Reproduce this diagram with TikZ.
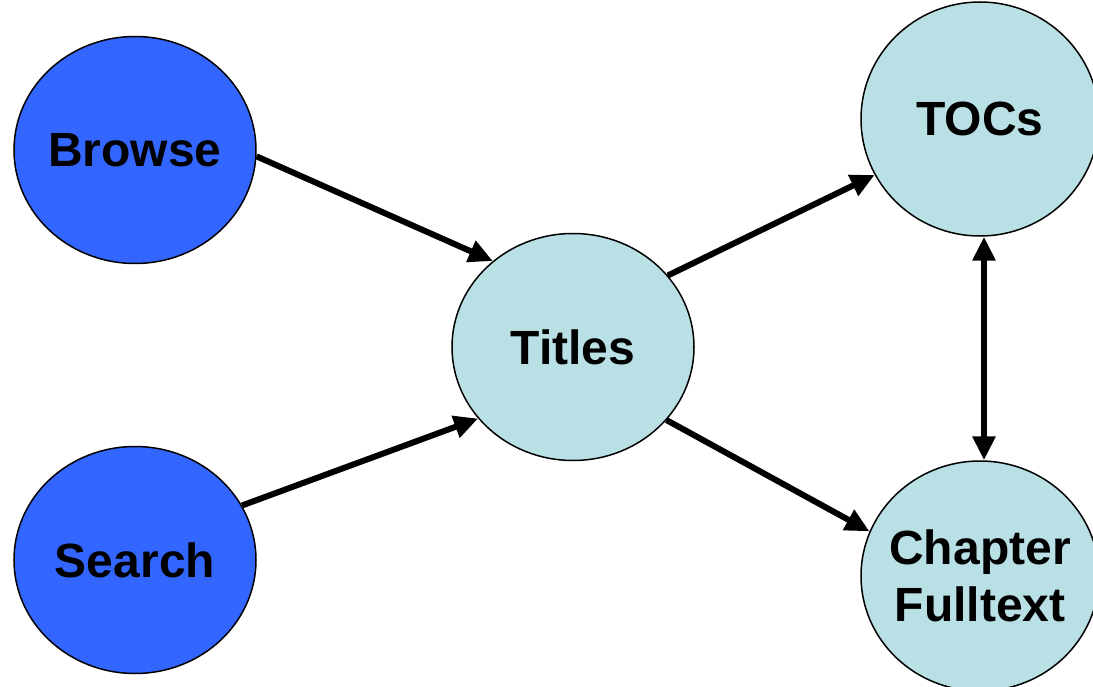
\documentclass[tikz,border=0pt]{standalone}
\usepackage{fontspec}
\setmainfont{Liberation Sans}
\usetikzlibrary{shapes.geometric,arrows.meta}
\definecolor{darkblue}{RGB}{51,102,255}
\definecolor{paleblue}{RGB}{185,224,228}
\tikzset{
  bubble/.style={ellipse, draw=black, line width=1.5pt, inner sep=-40pt,
    minimum width=242pt, minimum height=227pt, align=center,
    font=\bfseries\fontsize{48}{57}\selectfont},
  hub/.style={bubble, fill=darkblue},
  leaf/.style={bubble, fill=paleblue},
  link/.style={line width=6pt, -{Triangle[length=24pt,width=22pt]}},
  twoway/.style={line width=6pt, {Triangle[length=24pt,width=22pt]}-{Triangle[length=24pt,width=22pt]}}
}
\begin{document}
\begin{tikzpicture}
\useasboundingbox (0,0) rectangle (1093pt,-687pt);
\clip (0,0) rectangle (1093pt,-687pt);
\node[hub] (browse) at (135pt,-150pt) {Browse};
\node[hub] (search) at (135pt,-560pt) {Search};
\node[leaf] (titles) at (573pt,-347pt) {Titles};
\node[leaf, minimum width=238pt, minimum height=234pt] (tocs) at (980pt,-119pt) {TOCs};
\node[leaf, minimum width=238pt, minimum height=230pt] (chapter) at (980pt,-576pt) {Chapter\\Fulltext};
\draw[link] (browse.-3) -- (titles.133);
\draw[link] (search.27) -- (titles.217);
\draw[link] (titles.37) -- (tocs.208);
\draw[link] (titles.-38) -- (chapter.158);
\draw[twoway] ([xshift=4pt]tocs.south) -- ([xshift=4pt]chapter.north);
\end{tikzpicture}
\end{document}
